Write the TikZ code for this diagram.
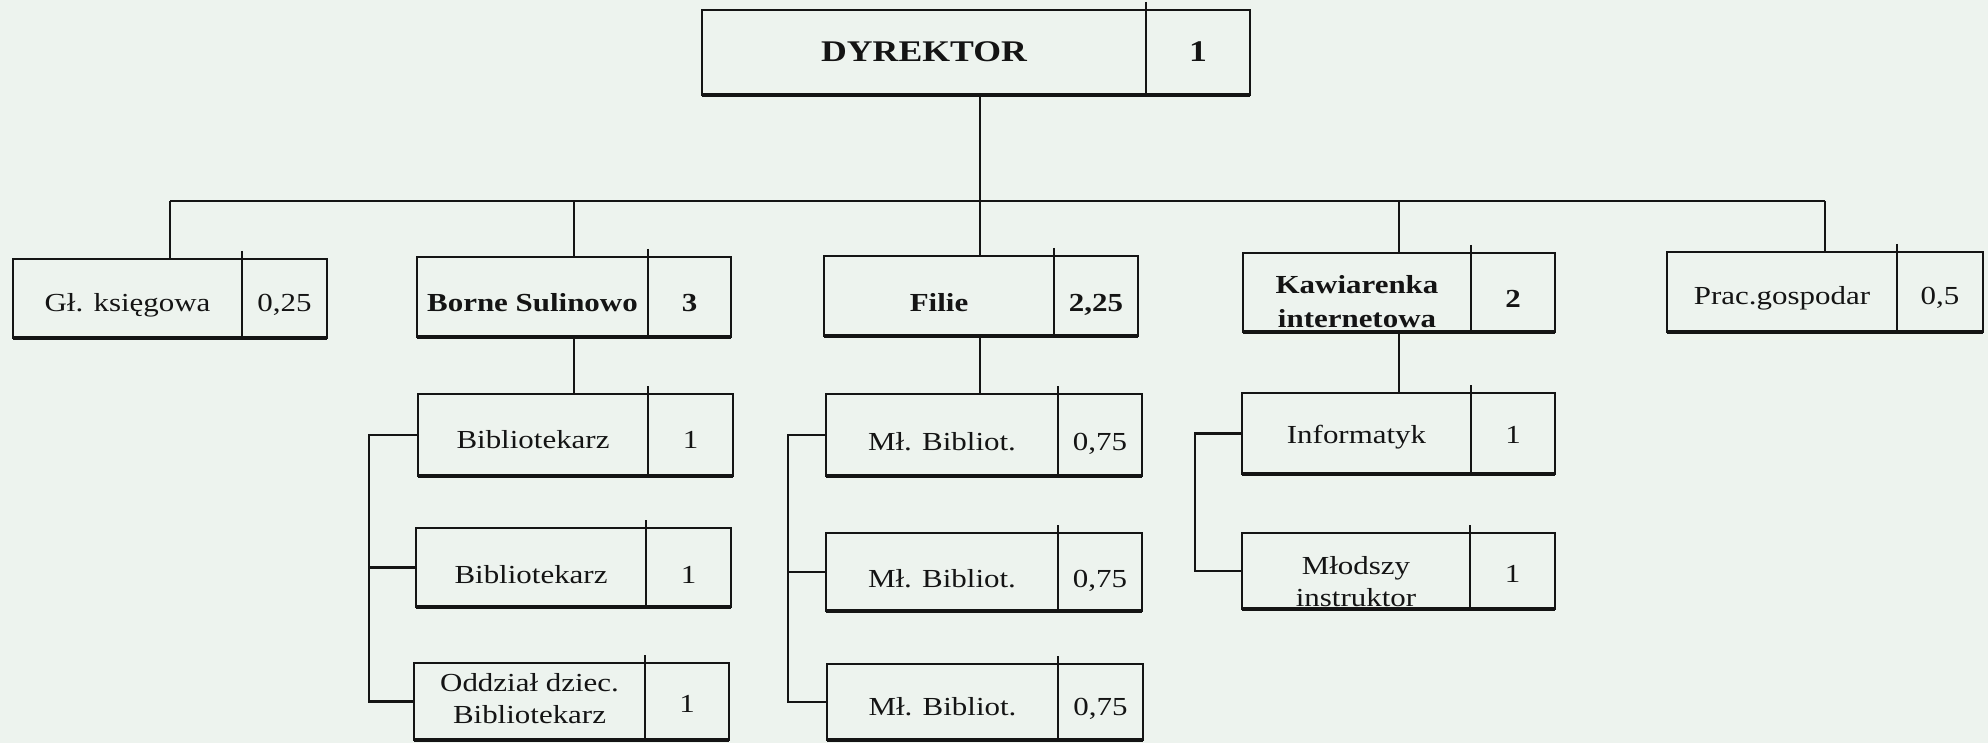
\documentclass[tikz,border=0pt]{standalone}
\usepackage{fontspec}
\setmainfont[FakeStretch=1.19]{Liberation Serif}
\definecolor{bg}{RGB}{237,243,238}
\definecolor{ink}{RGB}{20,20,20}
\tikzset{
  box/.style={draw=ink, line width=2pt, inner sep=0pt, outer sep=0pt},
  divider/.style={draw=ink, line width=2pt},
  edge/.style={draw=ink, line width=3.6pt},
  topedge/.style={draw=ink, line width=2.8pt},
  conn/.style={draw=ink, line width=2.2pt},
  bus/.style={draw=ink, line width=2.8pt},
  lbl/.style={inner sep=0pt, align=center, text=ink, font=\fontsize{26}{32}\selectfont},
  lblb/.style={lbl, font=\fontsize{26}{32}\selectfont\bfseries},
  lbld/.style={lbl, font=\fontsize{30}{36}\selectfont\bfseries},
  multi/.style={anchor=center},
  nshift/.style={},
}
% name, x1, y1, x2, y2, xdiv, text, number, label style
\newcommand{\obox}[9]{%
  \node[box, minimum width={(#4-#2)*1pt}, minimum height={(#5-#3)*1pt}, anchor=north west] (#1) at (#2,#3) {};
  \draw[divider] (#6,#3-8) -- (#6,#5);
  \draw[topedge] (#1.north west) -- (#1.north east);
  \draw[edge] (#1.south west) -- (#1.south east);
  \node[anchor=base, #9] (#1t) at ({(#2+#6)/2},{(#3+#5)/2+13}) {#7};
  \node[anchor=base, lbl, #9, anchor=base, nshift] (#1n) at ({(#6+#4)/2},{(#3+#5)/2+13}) {#8};
}
\begin{document}
\begin{tikzpicture}[x=1pt, y=-1pt]
\useasboundingbox[fill=bg] (0,0) rectangle (1988,743);
% level 1
\obox{dir}{702}{10}{1250}{95}{1146}{DYREKTOR}{1}{lbld, yshift=3.5pt}
% level 2
\obox{gl}{13}{259}{327}{338}{242}{Gł. księgowa}{0,25}{lbl}
\obox{bs}{417}{257}{731}{337}{648}{Borne Sulinowo}{3}{lblb, yshift=-1pt}
\obox{fil}{824}{256}{1138}{336}{1054}{Filie}{2,25}{lblb, yshift=-2pt}
\obox{kaw}{1243}{253}{1555}{332}{1471}{Kawiarenka\\internetowa}{2}{lblb, font=\fontsize{26}{34}\selectfont\bfseries, multi, yshift=3.5pt, nshift/.style={yshift=-5pt}}
\obox{prac}{1667}{252}{1983}{332}{1897}{Prac.gospodar}{0,5}{lbl}
% level 3
\obox{bA}{418}{394}{733}{476}{648}{Bibliotekarz}{1}{lbl}
\obox{bB}{416}{528}{731}{607}{646}{Bibliotekarz}{1}{lbl, yshift=-3pt}
\obox{bC}{414}{663}{729}{740}{645}{Oddział dziec.\\Bibliotekarz}{1}{lbl, multi, yshift=16pt, nshift/.style={yshift=-13.5pt}}
\obox{mA}{826}{394}{1142}{476}{1058}{Mł. Bibliot.}{0,75}{lbl, yshift=-2pt}
\obox{mB}{826}{533}{1142}{611}{1058}{Mł. Bibliot.}{0,75}{lbl, yshift=-2pt}
\obox{mC}{827}{664}{1143}{740}{1058}{Mł. Bibliot.}{0,75}{lbl}
\obox{inf}{1242}{393}{1555}{474}{1471}{Informatyk}{1}{lbl, yshift=3.5pt}
\obox{mlo}{1242}{533}{1555}{609}{1470}{Młodszy\\instruktor}{1}{lbl, multi, yshift=2pt}
% connectors
\coordinate (bus) at (980,201);
\draw[conn] (dir.south -| bus) -- (bus);
\draw[bus] (gl.north |- bus) -- (prac.north |- bus);
\draw[conn] (gl.north) -- (gl.north |- bus);
\draw[conn] (bs.north) -- (bs.north |- bus);
\draw[conn] (fil.north -| bus) -- (bus);
\draw[conn] (kaw.north) -- (kaw.north |- bus);
\draw[conn] (prac.north) -- (prac.north |- bus);
\draw[conn] (bs.south) -- (bs.south |- bA.north);
\draw[conn] (fil.south -| bus) -- (mA.north -| bus);
\draw[conn] (kaw.south) -- (kaw.south |- inf.north);
% brackets
\coordinate (bxa) at (369,0);
\coordinate (bxb) at (788,0);
\coordinate (bxc) at (1195,0);
\draw[conn] (bA.west) -- (bA.west -| bxa) -- (bC.west -| bxa) -- (bC.west);
\draw[conn] (bB.west) -- (bB.west -| bxa);
\draw[conn] (mA.west) -- (mA.west -| bxb) -- (mC.west -| bxb) -- (mC.west);
\draw[conn] (mB.west) -- (mB.west -| bxb);
\draw[conn] (inf.west) -- (inf.west -| bxc) -- (mlo.west -| bxc) -- (mlo.west);
\end{tikzpicture}
\end{document}
